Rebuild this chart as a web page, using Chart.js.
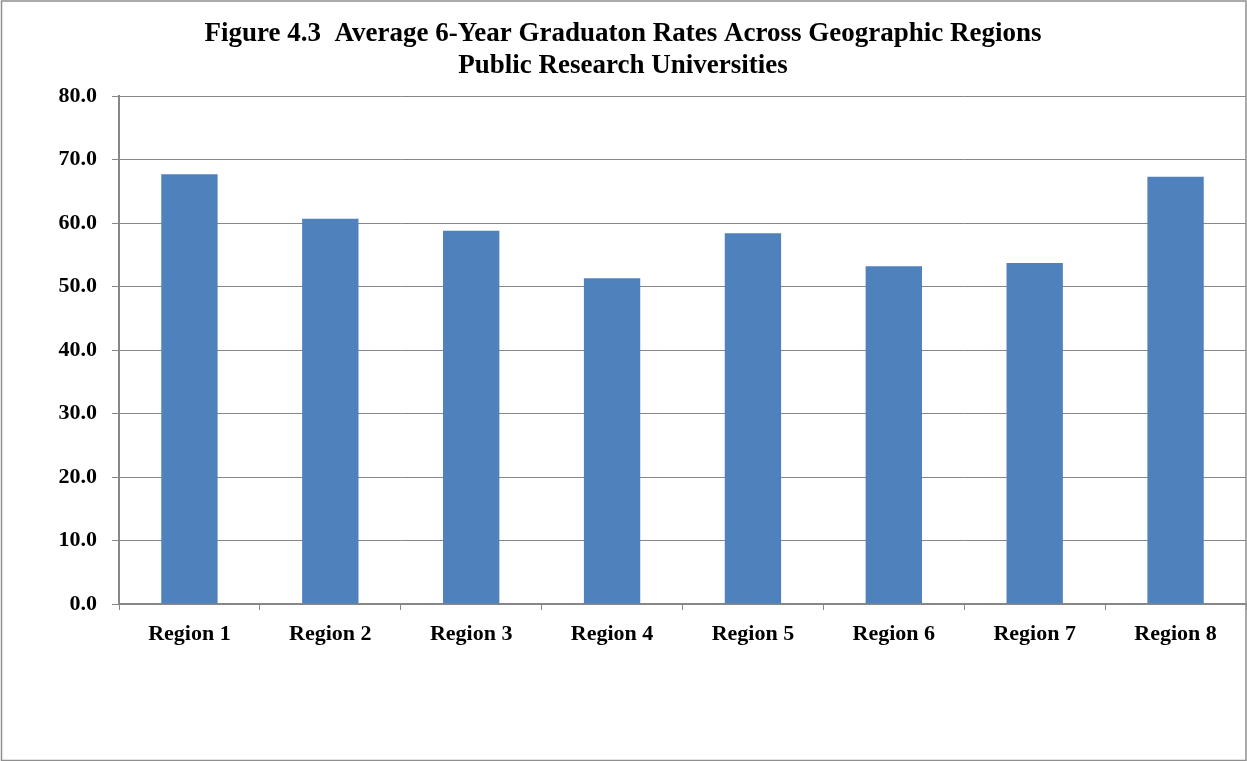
<!DOCTYPE html>
<html>
<head>
<meta charset="utf-8">
<script src="https://cdn.jsdelivr.net/npm/chart.js@4/dist/chart.umd.min.js"></script>
<style>
  html, body { margin: 0; padding: 0; background: #ffffff; }
  canvas { display: block; }
</style>
</head>
<body>
<canvas id="chart" width="1247" height="761"></canvas>
<script>
// Average 6-year graduation rates, public research universities, by region
const regions = ['Region 1', 'Region 2', 'Region 3', 'Region 4', 'Region 5', 'Region 6', 'Region 7', 'Region 8'];
const gradRates = [67.7, 60.7, 58.8, 51.3, 58.4, 53.2, 53.7, 67.3];
const titleLines = [
  'Figure 4.3  Average 6-Year Graduaton Rates Across Geographic Regions',
  'Public Research Universities'
];
const yMin = 0;
const yMax = 80;
const yStep = 10;

const serif = "'Liberation Serif', 'Times New Roman', serif";
const gridGray = '#878787';

// white page with a thin gray frame around the whole chart
const framePlugin = {
  id: 'frame',
  beforeDraw(chart) {
    const ctx = chart.ctx;
    ctx.save();
    ctx.fillStyle = '#ffffff';
    ctx.fillRect(0, 0, chart.width, chart.height);
    ctx.restore();
  },
  afterDraw(chart) {
    const ctx = chart.ctx;
    ctx.save();
    ctx.strokeStyle = '#8f8f8f';
    ctx.lineWidth = 1.5;
    ctx.strokeRect(1.5, 1, chart.width - 2.5, chart.height - 1.5);
    ctx.restore();
  }
};

new Chart(document.getElementById('chart'), {
  type: 'bar',
  data: {
    labels: regions,
    datasets: [{
      data: gradRates,
      backgroundColor: '#4F81BD',
      borderWidth: 0,
      barPercentage: 0.4,
      categoryPercentage: 1.0
    }]
  },
  options: {
    responsive: false,
    animation: false,
    layout: { padding: { left: 0, right: 1, top: 0, bottom: 0 } },
    plugins: {
      legend: { display: false },
      tooltip: { enabled: false },
      title: {
        display: true,
        text: titleLines,
        color: '#000000',
        font: { family: serif, size: 27, weight: 'bold', lineHeight: 1.15 },
        padding: { top: 19, bottom: 15 }
      }
    },
    scales: {
      x: {
        grid: {
          display: true,
          drawOnChartArea: false,
          drawTicks: true,
          tickLength: 6,
          color: gridGray,
          lineWidth: 1
        },
        border: { display: true, color: gridGray, width: 2 },
        ticks: {
          color: '#000000',
          font: { family: serif, size: 22, weight: 'bold' },
          padding: 11,
          maxRotation: 0
        },
        afterFit(scale) { scale.height = 157; }
      },
      y: {
        min: yMin,
        max: yMax,
        grid: {
          color: gridGray,
          lineWidth: 1,
          tickLength: 7
        },
        border: { display: true, color: gridGray, width: 2 },
        ticks: {
          stepSize: yStep,
          color: '#000000',
          font: { family: serif, size: 22, weight: 'bold' },
          padding: 15,
          callback: (v) => Number(v).toFixed(1)
        },
        afterFit(scale) { scale.width = 119; }
      }
    }
  },
  plugins: [framePlugin]
});
</script>
</body>
</html>
